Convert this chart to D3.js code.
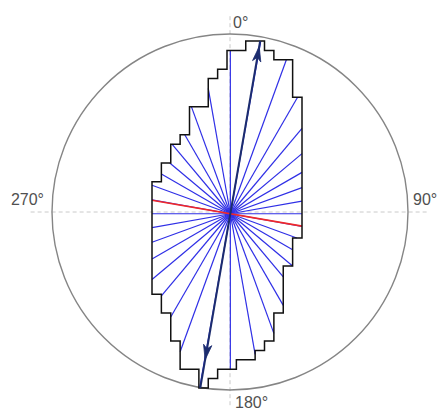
<!DOCTYPE html>
<html>
<head>
<meta charset="utf-8">
<script src="https://cdn.jsdelivr.net/npm/d3@7"></script>
<style>
  html, body { margin: 0; padding: 0; background: #fff; }
  svg { display: block; }
</style>
</head>
<body>
<svg id="chart" width="439" height="409"></svg>
<script>
// ---- data (grid-cell silhouette: first / past-last column for each row) ----
const rowLeft  = [10,8,8,7,6,6,6,4,4,4,3,2,2,1,1, 0,0,0,0,0,0,0,0,0,0,0,0, 1,1, 2,2,2, 3,3,3, 5,5];
const rowRight = [12,13,15,15,15,15, 16,16,16,16,16,16,16,16,16,16,16,16,16,16,16,
                  15,15,15, 14,14, 14,14,14, 13,13,13, 12, 11, 9, 7, 6];
const rayAngles = [0,10,20,30,40,50,60,70,80,90,100,110,120,130,140,150,160,170,
                   180,190,200,210,220,230,240,250,260,270,280,290,300,310,320,330,340,350];
const majorAxisAngle = 9.8;     // degrees, clockwise from 0° (up)
const minorAxisAngle = 99.8;
const arrowTipRadius = [18.1, 15.8]; // grid units from the centroid (upper tip, lower tip)
const axisLabels = ["0°", "90°", "180°", "270°"];
const axisLabelAngles = [0, 90, 180, 270];

// ---- layout ----
const svg = d3.select("#chart");
const cx = 230, cy = 212, R = 178;
const nCols = 16, nRows = rowLeft.length;
const x = d3.scaleLinear().domain([0, nCols]).range([152, 302]);
const y = d3.scaleLinear().domain([0, nRows]).range([41, 388]);
const rUnit = d3.scaleLinear().domain([0, 1]).range([0, R]);

// dashed axes
svg.append("line").attr("x1", cx - rUnit(1.12)).attr("x2", cx + rUnit(1.12))
  .attr("y1", cy).attr("y2", cy)
  .attr("stroke", "#cacaca").attr("stroke-width", 1).attr("stroke-dasharray", "4,3");
svg.append("line").attr("x1", cx).attr("x2", cx)
  .attr("y1", cy - rUnit(1.10)).attr("y2", cy + rUnit(1.09))
  .attr("stroke", "#cacaca").attr("stroke-width", 1).attr("stroke-dasharray", "4,3");

// outer circle
svg.append("circle").attr("cx", cx).attr("cy", cy).attr("r", rUnit(1))
  .attr("fill", "none").attr("stroke", "#858585").attr("stroke-width", 1.4);

// labels
const labelPos = {
  0:   {dx: 3,    dy: -rUnit(1) - 6,  anchor: "start"},
  90:  {dx: rUnit(1) + 5, dy: -7,     anchor: "start"},
  180: {dx: 5,    dy: rUnit(1) + 18,  anchor: "start"},
  270: {dx: -rUnit(1) - 8, dy: -7,    anchor: "end"}
};
svg.selectAll("text.lab").data(axisLabels).enter().append("text")
  .attr("class", "lab")
  .attr("x", (d, i) => cx + labelPos[axisLabelAngles[i]].dx)
  .attr("y", (d, i) => cy + labelPos[axisLabelAngles[i]].dy)
  .attr("text-anchor", (d, i) => labelPos[axisLabelAngles[i]].anchor)
  .attr("font-family", "'Liberation Sans', Arial, sans-serif")
  .attr("font-size", 16).attr("fill", "#505050")
  .text(d => d);

// ---- silhouette polygon (grid units) ----
const poly = [];
for (let j = 0; j < nRows; j++) { poly.push([rowRight[j], j]); poly.push([rowRight[j], j + 1]); }
for (let j = nRows - 1; j >= 0; j--) { poly.push([rowLeft[j], j + 1]); poly.push([rowLeft[j], j]); }

// centroid
let A = 0, sx = 0, sy = 0;
for (let j = 0; j < nRows; j++) {
  const w = rowRight[j] - rowLeft[j];
  A += w; sx += w * (rowLeft[j] + rowRight[j]) / 2; sy += w * (j + 0.5);
}
const c = [sx / A, sy / A];

function dir(deg) { const a = deg * Math.PI / 180; return [Math.sin(a), -Math.cos(a)]; }
function hit(deg) {
  const [dx, dy] = dir(deg);
  let best = Infinity;
  for (let i = 0; i < poly.length; i++) {
    const p = poly[i], q = poly[(i + 1) % poly.length];
    if (p[0] === q[0] && Math.abs(dx) > 1e-12) {
      const t = (p[0] - c[0]) / dx;
      const yy = c[1] + t * dy;
      if (t > 1e-9 && yy >= Math.min(p[1], q[1]) - 1e-9 && yy <= Math.max(p[1], q[1]) + 1e-9) best = Math.min(best, t);
    } else if (p[1] === q[1] && Math.abs(dy) > 1e-12) {
      const t = (p[1] - c[1]) / dy;
      const xx = c[0] + t * dx;
      if (t > 1e-9 && xx >= Math.min(p[0], q[0]) - 1e-9 && xx <= Math.max(p[0], q[0]) + 1e-9) best = Math.min(best, t);
    }
  }
  return [c[0] + best * dx, c[1] + best * dy];
}

// rays
svg.selectAll("line.ray").data(rayAngles).enter().append("line")
  .attr("class", "ray")
  .attr("x1", x(c[0])).attr("y1", y(c[1]))
  .attr("x2", d => x(hit(d)[0])).attr("y2", d => y(hit(d)[1]))
  .attr("stroke", "#2f2fe6").attr("stroke-width", 1.2);

// minor axis (red)
const m1 = hit(minorAxisAngle), m2 = hit(minorAxisAngle + 180);
svg.append("line").attr("x1", x(m1[0])).attr("y1", y(m1[1]))
  .attr("x2", x(m2[0])).attr("y2", y(m2[1]))
  .attr("stroke", "#f0282a").attr("stroke-width", 1.6);

// outline
svg.append("path")
  .attr("d", d3.line().x(d => x(d[0])).y(d => y(d[1]))(poly) + "Z")
  .attr("fill", "none").attr("stroke", "#111").attr("stroke-width", 1.5)
  .attr("stroke-linejoin", "miter");

// major axis (navy double arrow)
const M1 = hit(majorAxisAngle), M2 = hit(majorAxisAngle + 180);
svg.append("line").attr("x1", x(M1[0])).attr("y1", y(M1[1]))
  .attr("x2", x(M2[0])).attr("y2", y(M2[1]))
  .attr("stroke", "#1c2c6e").attr("stroke-width", 2);

const unitPx = x(1) - x(0);
[majorAxisAngle, majorAxisAngle + 180].forEach((ang, i) => {
  const [dx, dy] = dir(ang);
  const tip = [x(c[0]) + dx * arrowTipRadius[i] * unitPx, y(c[1]) + dy * arrowTipRadius[i] * unitPx];
  const L = 15, W = 4.2, N = 11;
  const px = -dy, py = dx;
  const pts = [
    tip,
    [tip[0] - dx * L + px * W, tip[1] - dy * L + py * W],
    [tip[0] - dx * N, tip[1] - dy * N],
    [tip[0] - dx * L - px * W, tip[1] - dy * L - py * W]
  ];
  svg.append("path").attr("d", d3.line()(pts) + "Z")
    .attr("fill", "#1c2c6e").attr("stroke", "#1c2c6e").attr("stroke-width", 0.8);
});
</script>
</body>
</html>
